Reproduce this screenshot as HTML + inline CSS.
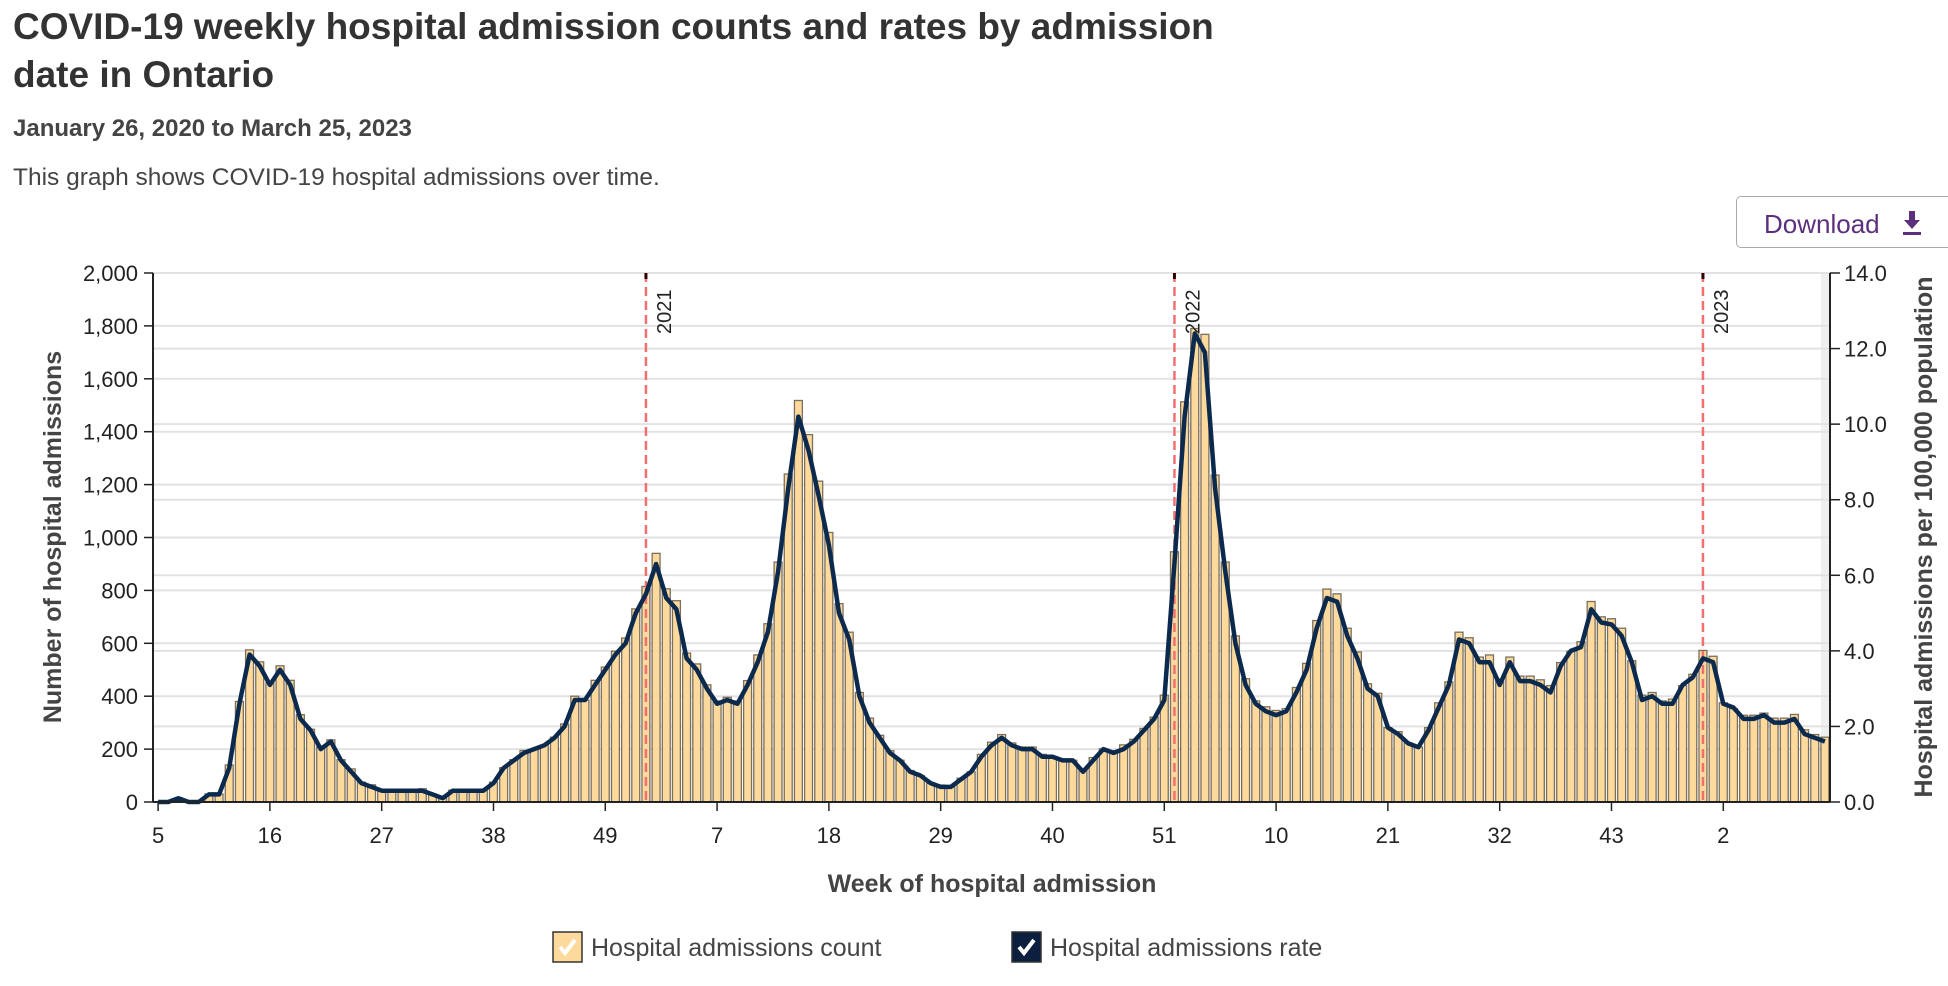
<!DOCTYPE html>
<html><head><meta charset="utf-8">
<style>
html,body{margin:0;padding:0;background:#fff;}
body{width:1948px;height:986px;overflow:hidden;position:relative;font-family:"Liberation Sans",sans-serif;color:#333;}
.t{position:absolute;white-space:nowrap;}
</style></head>
<body>
<div class="t" style="left:13px;top:3px;font-size:37px;font-weight:bold;line-height:48px;color:#333;">COVID-19 weekly hospital admission counts and rates by admission<br>date in Ontario</div>
<div class="t" style="left:13px;top:115px;font-size:24px;font-weight:bold;color:#444;">January 26, 2020 to March 25, 2023</div>
<div class="t" style="left:13px;top:164px;font-size:24.5px;color:#444;">This graph shows COVID-19 hospital admissions over time.</div>
<div style="position:absolute;left:1736px;top:196px;width:230px;height:52px;border:1px solid #aaa;border-radius:5px;box-sizing:border-box;">
  <span class="t" style="left:27px;top:12px;font-size:26px;color:#5b2e7e;">Download</span>
  <svg style="position:absolute;left:164px;top:13px;" width="22" height="26" viewBox="0 0 22 26"><path d="M8 1h6v9h5l-8 9-8-9h5z" fill="#5b2e7e"/><rect x="2" y="22" width="18" height="3" fill="#5b2e7e"/></svg>
</div>
<svg id="chart" width="1948" height="986" style="position:absolute;left:0;top:0;" xmlns="http://www.w3.org/2000/svg"></svg>
<script>
const counts2020 = [0,0,15,0,0,30,30,140,380,575,530,450,515,460,330,275,210,235,160,125,75,65,45,45,45,45,50,30,15,45,45,45,45,75,130,160,195,200,215,245,295,400,385,460,510,570,620,730,815];
const counts2021 = [940,806,761,563,522,443,382,396,382,459,556,674,907,1240,1518,1389,1213,1019,750,642,414,317,252,194,158,119,100,71,64,56,90,114,180,226,255,223,208,208,180,172,162,158,122,168,201,194,216,237,278,321,404,946];
const counts2022 = [1513,1790,1768,1236,907,628,466,382,360,346,353,433,524,686,805,787,657,567,447,411,281,266,223,208,281,375,454,642,621,548,556,465,548,476,476,462,440,527,570,606,758,700,693,657,534,404,414,382,389,440,483,573];
const counts2023 = [551,375,353,328,328,336,317,317,331,273,255,245];
const rates2020 = [0,0,0.1,0,0,0.2,0.2,0.9,2.6,3.9,3.6,3.1,3.5,3.1,2.2,1.9,1.4,1.6,1.1,0.8,0.5,0.4,0.3,0.3,0.3,0.3,0.3,0.2,0.1,0.3,0.3,0.3,0.3,0.5,0.9,1.1,1.3,1.4,1.5,1.7,2.0,2.7,2.7,3.1,3.5,3.9,4.2,5.0,5.5];
const rates2021 = [6.3,5.4,5.1,3.8,3.5,3.0,2.6,2.7,2.6,3.1,3.7,4.5,6.1,8.3,10.2,9.3,8.1,6.8,5.0,4.3,2.8,2.1,1.7,1.3,1.1,0.8,0.7,0.5,0.4,0.4,0.6,0.8,1.2,1.5,1.7,1.5,1.4,1.4,1.2,1.2,1.1,1.1,0.8,1.1,1.4,1.3,1.4,1.6,1.9,2.2,2.7,6.3];
const rates2022 = [10.2,12.4,11.9,8.3,6.1,4.2,3.1,2.6,2.4,2.3,2.4,2.9,3.5,4.6,5.4,5.3,4.4,3.8,3.0,2.8,1.97,1.8,1.55,1.45,1.9,2.5,3.1,4.3,4.2,3.7,3.7,3.1,3.7,3.2,3.2,3.1,2.9,3.6,4.0,4.1,5.1,4.75,4.7,4.4,3.7,2.7,2.8,2.6,2.6,3.1,3.3,3.8];
const rates2023 = [3.7,2.6,2.5,2.2,2.2,2.3,2.1,2.1,2.2,1.8,1.7,1.6];
const weekLabels2020 = [5,16,27,38,49];
const weekLabels2021 = [7,18,29,40,51];
const weekLabels2022 = [10,21,32,43];
const weekLabels2023 = [2];
const leftTicks = [0,200,400,600,800,1000,1200,1400,1600,1800,2000];
const rightTicks = [0,2,4,6,8,10,12,14];
const yearMarkers = ["2021","2022","2023"];

const counts = counts2020.concat(counts2021, counts2022, counts2023);
const rates = rates2020.concat(rates2021, rates2022, rates2023);
const startWeek = [5,1,1,1];
const yearLen = [counts2020.length, counts2021.length, counts2022.length, counts2023.length];
const yearOffsets = [0, yearLen[0], yearLen[0]+yearLen[1], yearLen[0]+yearLen[1]+yearLen[2]];
const L = 153, R = 1830, T = 273, B = 802;
const N = counts.length;
const band = (R - L) / N;
const xC = i => L + band * (i + 0.5);
const yL = v => B - (v / 2000) * (B - T);
const yR = v => B - (v / 14) * (B - T);
const svg = document.getElementById('chart');
const NS = 'http://www.w3.org/2000/svg';
function mk(tag, attrs, parent) {
  const e = document.createElementNS(NS, tag);
  for (const k in attrs) e.setAttribute(k, attrs[k]);
  (parent || svg).appendChild(e);
  return e;
}
let e = mk('rect', {x: R - 9, y: T, width: 9, height: B - T, fill: '#efefef'});


leftTicks.forEach(v => {
  const g = mk('line', {x1: L, x2: R, y1: yL(v), y2: yL(v), stroke: '#e2e2e2', 'stroke-width': 2});
  
  
});
rightTicks.forEach(v => {
  const g = mk('line', {x1: L, x2: R, y1: yR(v), y2: yR(v), stroke: '#e2e2e2', 'stroke-width': 2});
  
  
});
counts.forEach((v, i) => {
  const w = band * 0.78;
  const b = mk('rect', {x: xC(i) - w / 2, y: yL(v), width: w, height: B - yL(v), fill: '#fdd99c', stroke: '#7a705f', 'stroke-width': 1.3});
  
  
});
yearMarkers.forEach((yr, k) => {
  const idx = yearOffsets[k + 1] - 1;
  const x = xC(idx);
  const ln = mk('line', {x1: x, x2: x, y1: T, y2: B, stroke: '#f07070', 'stroke-width': 2.5, 'stroke-dasharray': '9,5'});
  
  
  const tk = mk('line', {x1: x, x2: x, y1: T, y2: T + 6, stroke: '#300', 'stroke-width': 3});
  
  
  const t = mk('text', {x: 0, y: 0, transform: `translate(${x + 25},${T + 61}) rotate(-90)`, 'font-size': 20, fill: '#222', 'font-family': 'Liberation Sans, sans-serif'});
  t.textContent = yr;
  
  
});
const pts = rates.map((v, i) => xC(i).toFixed(1) + ',' + yR(v).toFixed(1)).join(' ');
const pl = mk('polyline', {points: pts, fill: 'none', stroke: '#0c2a4e', 'stroke-width': 4.5, 'stroke-linejoin': 'round'});


const ax1 = mk('line', {x1: L, x2: L, y1: T, y2: B, stroke: '#222', 'stroke-width': 2});


const ax2 = mk('line', {x1: R, x2: R, y1: T, y2: B, stroke: '#222', 'stroke-width': 2});


const ax3 = mk('line', {x1: L, x2: R, y1: B, y2: B, stroke: '#222', 'stroke-width': 2});


leftTicks.forEach(v => {
  const tm = mk('line', {x1: L - 9, x2: L, y1: yL(v), y2: yL(v), stroke: '#222', 'stroke-width': 1.5});
  
  
  const t = mk('text', {x: L - 15, y: yL(v) + 8, 'text-anchor': 'end', 'font-size': 22, fill: '#222'});
  t.textContent = v.toLocaleString('en-US');
  
  
});
rightTicks.forEach(v => {
  const tm = mk('line', {x1: R, x2: R + 10, y1: yR(v), y2: yR(v), stroke: '#222', 'stroke-width': 1.5});
  
  
  const t = mk('text', {x: R + 14, y: yR(v) + 8, 'font-size': 22, fill: '#222'});
  t.textContent = v.toFixed(1);
  
  
});
[weekLabels2020, weekLabels2021, weekLabels2022, weekLabels2023].forEach((arr, k) => {
  arr.forEach(w => {
    const i = yearOffsets[k] + (w - startWeek[k]);
    const tm = mk('line', {x1: xC(i), x2: xC(i), y1: B, y2: B + 9, stroke: '#222', 'stroke-width': 1.5});
    
    
    const t = mk('text', {x: xC(i), y: B + 41, 'text-anchor': 'middle', 'font-size': 22, fill: '#222'});
    t.textContent = w;
    
    
  });
});
let at = mk('text', {x: 0, y: 0, transform: 'translate(61,537) rotate(-90)', 'text-anchor': 'middle', 'font-size': 25, 'font-weight': 'bold', fill: '#444'});
at.textContent = 'Number of hospital admissions';


at = mk('text', {x: 0, y: 0, transform: 'translate(1932,537) rotate(-90)', 'text-anchor': 'middle', 'font-size': 25, 'font-weight': 'bold', fill: '#444'});
at.textContent = 'Hospital admissions per 100,000 population';


at = mk('text', {x: 992, y: 892, 'text-anchor': 'middle', 'font-size': 25, 'font-weight': 'bold', fill: '#444'});
at.textContent = 'Week of hospital admission';


function legend(x, fill, tx, label, name) {
  const r = mk('rect', {x: x, y: 932, width: 29, height: 30, fill: fill, stroke: '#333', 'stroke-width': 1.5});
  
  
  const c = mk('path', {d: `M${x+7} ${947} l5 6 l10 -13`, fill: 'none', stroke: '#fff', 'stroke-width': 4});
  
  
  const t = mk('text', {x: tx, y: 956, 'font-size': 25, fill: '#444'});
  t.textContent = label;
  
  
}
legend(553, '#fdd99c', 591, 'Hospital admissions count', 'legend-count');
legend(1012, '#0c1f3e', 1050, 'Hospital admissions rate', 'legend-rate');
</script>
</body></html>
